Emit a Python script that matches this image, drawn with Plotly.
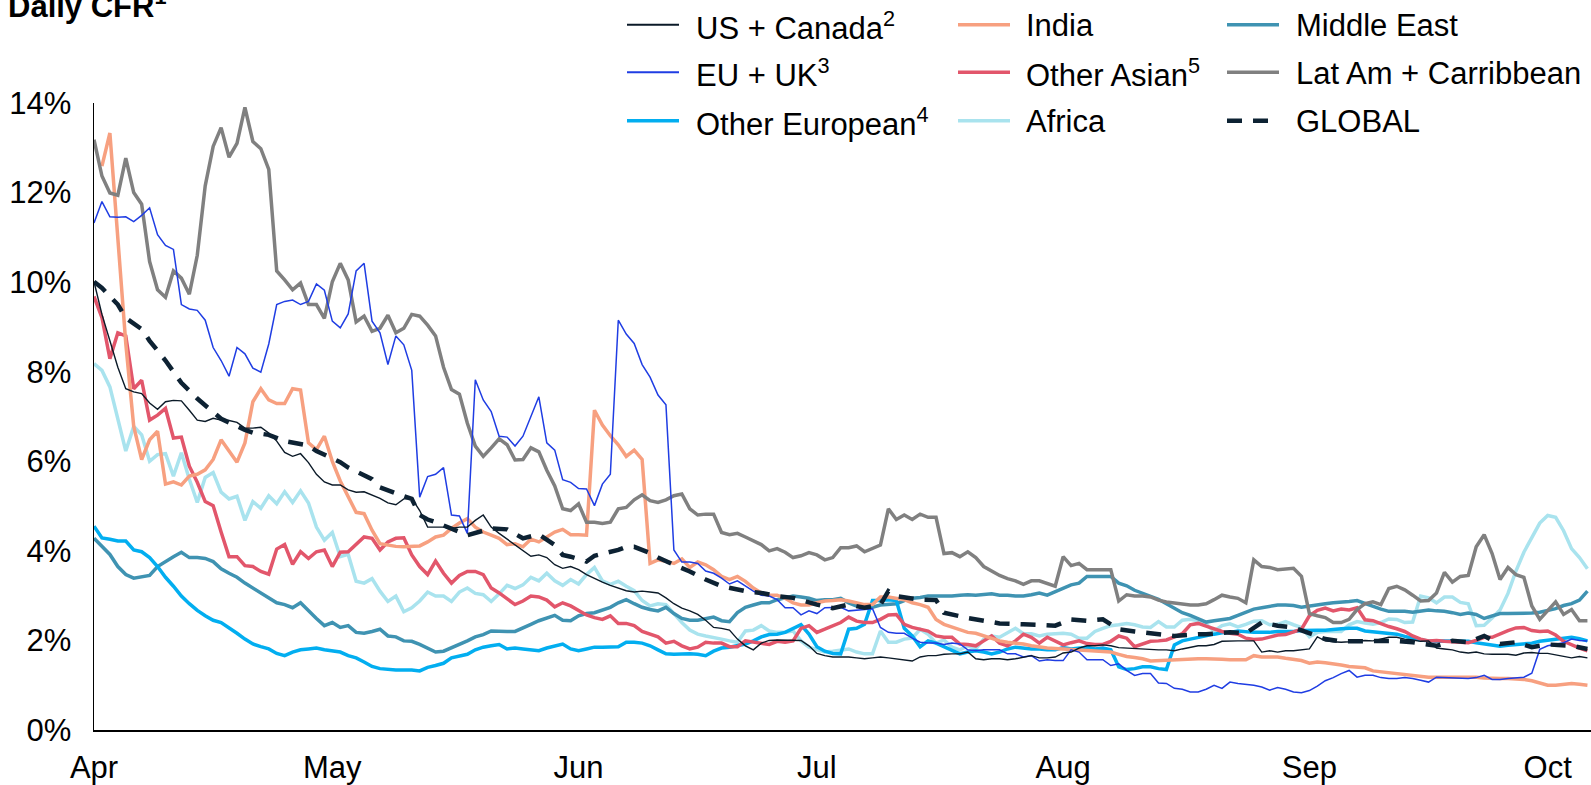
import pandas as pd
import plotly.graph_objects as go

# ---------------- data (daily CFR, %) ----------------
START = "2020-04-01"
DAYS = list(range(189))          # day offsets from 1 April

US_CANADA = [
    10.01, 9.28, 8.69, 8.1, 7.62, 7.55, 7.51, 7.3, 7.16, 7.33,
    7.36, 7.35, 7.14, 6.92, 6.89, 6.96, 6.92, 6.91, 6.87, 6.74,
    6.74, 6.76, 6.63, 6.45, 6.2, 6.11, 6.17, 5.97, 5.71, 5.54,
    5.47, 5.47, 5.36, 5.31, 5.32, 5.25, 5.17, 5.07, 5.03, 5.16,
    5.17, 4.9, 4.53, 4.53, 4.53, 4.5, 4.53, 4.53, 4.68, 4.8,
    4.53, 4.39, 4.26, 4.13, 4.02, 3.88, 3.91, 3.85, 3.69, 3.61,
    3.65, 3.58, 3.47, 3.38, 3.3, 3.23, 3.17, 3.11, 3.08, 3.1,
    3.08, 3.06, 2.95, 2.82, 2.72, 2.66, 2.58, 2.45, 2.29, 2.27,
    2.23, 2.03, 1.88, 1.79, 1.94, 2.0, 2.01, 2.01, 2.0, 2.0,
    1.88, 1.71, 1.66, 1.63, 1.63, 1.63, 1.61, 1.59, 1.61, 1.63,
    1.61, 1.59, 1.57, 1.54, 1.63, 1.66, 1.66, 1.69, 1.7, 1.7,
    1.74, 1.59, 1.57, 1.59, 1.59, 1.57, 1.59, 1.63, 1.66, 1.61,
    1.61, 1.63, 1.72, 1.74, 1.83, 1.88, 1.88, 1.9, 1.88, 1.84,
    1.83, 1.82, 1.81, 1.79, 1.79, 1.79, 1.77, 1.81, 1.85, 1.88,
    1.88, 1.91, 1.98, 1.99, 1.99, 1.99, 1.99, 1.74, 1.77, 1.74,
    1.77, 1.77, 1.79, 1.81, 2.08, 1.99, 1.97, 1.96, 1.97, 1.99,
    2.0, 1.99, 2.03, 2.07, 2.07, 2.03, 2.01, 1.98, 1.99, 1.83,
    1.81, 1.79, 1.74, 1.72, 1.74, 1.7, 1.69, 1.69, 1.69, 1.67,
    1.72, 1.73, 1.71, 1.71, 1.68, 1.64, 1.61, 1.64, 1.61]

EU_UK = [
    11.32, 11.8, 11.46, 11.45, 11.46, 11.35, 11.49, 11.66, 11.06, 10.82,
    10.73, 9.5, 9.4, 9.37, 9.15, 8.54, 8.25, 7.9, 8.54, 8.4,
    8.08, 7.99, 8.62, 9.5, 9.57, 9.6, 9.5, 9.57, 9.96, 9.82,
    9.13, 8.98, 9.29, 10.25, 10.42, 9.13, 8.87, 8.16, 8.8, 8.6,
    8.03, 5.2, 5.66, 5.71, 5.86, 4.8, 4.78, 4.39, 7.82, 7.37,
    7.11, 6.56, 6.54, 6.34, 6.56, 7.0, 7.44, 6.41, 6.25, 5.59,
    5.53, 5.39, 5.38, 5.01, 5.49, 5.71, 9.15, 8.84, 8.63, 8.16,
    7.88, 7.48, 7.26, 4.02, 3.75, 3.75, 3.72, 3.55, 3.5, 3.39,
    3.26, 3.33, 3.21, 3.1, 3.01, 2.99, 2.91, 2.73, 2.73, 2.57,
    2.66, 2.6, 2.73, 2.74, 2.74, 2.66, 2.67, 2.69, 2.71, 2.29,
    2.18, 2.16, 2.16, 2.05, 1.96, 1.94, 1.94, 1.91, 1.94, 1.92,
    1.79, 1.77, 1.79, 1.79, 1.79, 1.7, 1.7, 1.63, 1.66, 1.54,
    1.57, 1.55, 1.55, 1.79, 1.74, 1.57, 1.57, 1.57, 1.44, 1.48,
    1.33, 1.22, 1.26, 1.26, 1.05, 1.04, 0.93, 0.91, 0.85, 0.85,
    0.91, 1.0, 0.93, 1.07, 1.04, 1.02, 1.0, 0.96, 0.89, 0.95,
    0.91, 0.85, 0.83, 0.88, 0.98, 1.1, 1.17, 1.26, 1.33, 1.18,
    1.22, 1.22, 1.17, 1.15, 1.15, 1.17, 1.15, 1.11, 1.07, 1.18,
    1.17, 1.17, 1.15, 1.15, 1.17, 1.22, 1.13, 1.13, 1.15, 1.17,
    1.18, 1.27, 1.8, 1.88, 1.91, 1.95, 2.03, 2.0, 1.99]

OTHER_EUROPEAN = [
    4.55, 4.29, 4.26, 4.22, 4.22, 4.02, 3.98, 3.85, 3.65, 3.41,
    3.21, 2.99, 2.82, 2.67, 2.55, 2.45, 2.4, 2.29, 2.16, 2.03,
    1.92, 1.86, 1.81, 1.71, 1.66, 1.74, 1.79, 1.81, 1.83, 1.79,
    1.77, 1.74, 1.66, 1.61, 1.52, 1.42, 1.37, 1.35, 1.34, 1.34,
    1.34, 1.32, 1.4, 1.44, 1.49, 1.61, 1.66, 1.69, 1.79, 1.85,
    1.88, 1.91, 1.81, 1.83, 1.81, 1.79, 1.77, 1.83, 1.88, 1.92,
    1.81, 1.77, 1.81, 1.85, 1.85, 1.85, 1.86, 1.96, 1.96, 1.94,
    1.88, 1.79, 1.7, 1.69, 1.7, 1.7, 1.69, 1.66, 1.76, 1.83,
    1.85, 1.88, 1.92, 1.99, 2.08, 2.13, 2.14, 2.18, 2.27, 2.35,
    2.14, 1.86, 1.76, 1.71, 1.7, 2.25, 2.27, 2.36, 2.89, 2.89,
    2.91, 2.89, 2.27, 2.1, 1.86, 1.99, 1.94, 1.86, 1.79, 1.7,
    1.74, 1.77, 1.74, 1.7, 1.74, 1.81, 1.85, 1.83, 1.81, 1.81,
    1.79, 1.79, 1.84, 1.81, 1.83, 1.85, 1.81, 1.83, 1.79, 1.41,
    1.35, 1.37, 1.41, 1.41, 1.37, 1.35, 1.9, 1.99, 2.03, 2.07,
    2.1, 2.14, 2.17, 2.18, 2.21, 2.19, 2.18, 2.18, 2.18, 2.2,
    2.2, 2.2, 2.22, 2.23, 2.23, 2.23, 2.25, 2.26, 2.27, 2.27,
    2.21, 2.19, 2.18, 2.16, 2.14, 2.09, 2.04, 2.01, 1.99, 1.98,
    1.99, 1.99, 1.99, 1.98, 1.95, 1.92, 1.9, 1.87, 1.89, 1.91,
    1.92, 1.94, 1.98, 2.0, 2.02, 2.04, 2.07, 2.04, 1.99]

INDIA_DAYS = list(range(1, 189))
INDIA = [
    12.59, 13.33, 10.98, 8.63, 6.78, 6.04, 6.48, 6.67, 5.49,
    5.54, 5.47, 5.67, 5.71, 5.81, 6.04, 6.48, 6.23, 5.98, 6.41,
    7.33, 7.62, 7.37, 7.29, 7.29, 7.62, 7.59, 6.41, 6.26, 6.56,
    6.0, 5.56, 5.23, 4.86, 4.83, 4.46, 4.16, 4.12, 4.1, 4.09,
    4.1, 4.11, 4.2, 4.31, 4.35, 4.5, 4.62, 4.72, 4.53, 4.42,
    4.35, 4.28, 4.14, 4.16, 4.09, 4.26, 4.2, 4.31, 4.42, 4.48,
    4.36, 4.36, 4.35, 7.14, 6.81, 6.57, 6.37, 6.11, 6.25, 6.04,
    3.72, 3.8, 3.77, 3.72, 3.82, 3.63, 3.75, 3.69, 3.58, 3.43,
    3.36, 3.43, 3.32, 3.17, 3.06, 3.01, 3.01, 2.94, 2.84, 2.79,
    2.79, 2.84, 2.88, 2.89, 2.91, 2.88, 2.84, 2.8, 2.8, 2.97,
    2.97, 2.94, 2.91, 2.84, 2.8, 2.74, 2.47, 2.36, 2.3, 2.23,
    2.18, 2.16, 2.1, 2.03, 1.99, 1.96, 1.94, 1.92, 1.88, 1.85,
    1.83, 1.82, 1.81, 1.8, 1.79, 1.78, 1.77, 1.76, 1.74, 1.69,
    1.64, 1.62, 1.59, 1.54, 1.55, 1.56, 1.57, 1.58, 1.59, 1.59,
    1.59, 1.59, 1.58, 1.57, 1.57, 1.57, 1.66, 1.63, 1.63, 1.63,
    1.6, 1.57, 1.55, 1.49, 1.52, 1.5, 1.48, 1.45, 1.42, 1.4,
    1.39, 1.32, 1.3, 1.28, 1.26, 1.24, 1.22, 1.19, 1.18, 1.18,
    1.18, 1.17, 1.17, 1.18, 1.18, 1.16, 1.15, 1.15, 1.15, 1.14,
    1.13, 1.1, 1.05, 1.0, 1.0, 1.02, 1.04, 1.02, 1.0]

OTHER_ASIAN = [
    9.68, 9.21, 8.29, 8.87, 8.8, 7.62, 7.81, 6.92, 7.03, 7.18,
    6.52, 6.54, 5.89, 5.53, 5.1, 5.01, 4.42, 3.87, 3.87, 3.67,
    3.65, 3.54, 3.48, 4.04, 4.14, 3.7, 3.98, 3.83, 3.98, 4.02,
    3.65, 3.97, 3.98, 4.14, 4.31, 4.28, 4.02, 4.2, 4.28, 4.29,
    3.91, 3.65, 3.47, 3.77, 3.5, 3.28, 3.45, 3.54, 3.54, 3.47,
    3.17, 3.06, 2.94, 2.8, 2.88, 2.99, 2.97, 2.9, 2.75, 2.84,
    2.77, 2.66, 2.57, 2.51, 2.47, 2.55, 2.38, 2.38, 2.33, 2.2,
    2.14, 2.08, 1.94, 1.98, 1.88, 1.81, 1.85, 1.96, 1.94, 1.94,
    1.86, 1.86, 1.99, 1.96, 1.94, 1.91, 1.98, 1.96, 1.99, 2.27,
    2.33, 2.18, 2.25, 2.33, 2.4, 2.52, 2.43, 2.4, 2.4, 2.47,
    2.57, 2.58, 2.36, 2.29, 2.25, 2.21, 2.1, 2.07, 2.07, 1.92,
    1.91, 1.88, 1.99, 2.1, 1.94, 1.88, 1.99, 2.14, 2.07, 1.94,
    2.07, 1.99, 1.9, 1.95, 1.99, 1.93, 1.91, 1.91, 1.98, 2.1,
    2.05, 1.86, 1.92, 1.98, 1.99, 2.01, 2.08, 2.15, 2.35, 2.38,
    2.32, 2.25, 2.2, 2.16, 2.14, 2.05, 2.02, 2.03, 2.08, 2.12,
    2.13, 2.18, 2.25, 2.55, 2.67, 2.72, 2.66, 2.7, 2.68, 2.73,
    2.46, 2.44, 2.37, 2.31, 2.26, 2.2, 2.1, 2.03, 1.99, 2.0,
    1.98, 1.97, 1.96, 1.95, 2.0, 2.07, 2.07, 2.15, 2.22, 2.28,
    2.29, 2.22, 2.2, 2.21, 2.12, 1.98, 1.9, 1.83, 1.77]

AFRICA = [
    8.18, 8.03, 7.66, 6.92, 6.23, 6.78, 6.59, 6.0, 6.15, 6.17,
    5.67, 6.19, 5.6, 5.08, 5.64, 5.75, 5.31, 5.16, 5.22, 4.68,
    5.1, 4.95, 5.23, 5.05, 5.32, 5.08, 5.34, 5.07, 4.53, 4.24,
    4.41, 3.87, 3.92, 3.32, 3.28, 3.38, 3.1, 2.87, 2.99, 2.64,
    2.73, 2.88, 3.08, 2.99, 2.99, 2.87, 3.08, 3.17, 3.05, 3.02,
    2.87, 3.04, 3.23, 3.16, 3.24, 3.41, 3.33, 3.5, 3.33, 3.23,
    3.36, 3.26, 3.47, 3.63, 3.33, 3.25, 3.32, 3.21, 3.11, 2.89,
    2.77, 2.82, 2.8, 2.6, 2.4, 2.23, 2.14, 2.1, 2.07, 2.03,
    1.99, 1.96, 2.21, 2.23, 2.33, 2.21, 2.18, 2.18, 2.21, 1.99,
    1.85, 1.79, 1.74, 1.76, 1.79, 1.81, 1.74, 1.7, 1.7, 2.21,
    1.96, 1.96, 2.03, 2.05, 2.25, 2.14, 1.94, 2.01, 1.85, 1.79,
    1.88, 1.81, 2.03, 2.1, 2.07, 2.18, 2.27, 2.15, 2.15, 2.1,
    2.14, 2.15, 2.16, 2.14, 2.05, 2.05, 2.2, 2.27, 2.33, 2.35,
    2.38, 2.35, 2.3, 2.29, 2.42, 2.3, 2.3, 2.45, 2.47, 2.44,
    2.36, 2.21, 2.33, 2.37, 2.3, 2.36, 2.43, 2.44, 2.35, 2.36,
    2.42, 2.35, 2.29, 2.08, 2.18, 2.2, 2.2, 2.2, 2.35, 2.42,
    2.39, 2.36, 2.4, 2.48, 2.47, 2.4, 2.41, 2.99, 2.95, 2.84,
    2.97, 2.97, 2.85, 2.82, 2.33, 2.34, 2.5, 2.68, 3.05, 3.55,
    3.97, 4.28, 4.62, 4.79, 4.75, 4.45, 4.05, 3.85, 3.6]

MIDDLE_EAST = [
    4.28, 4.09, 3.92, 3.65, 3.47, 3.39, 3.43, 3.45, 3.65, 3.77,
    3.87, 3.97, 3.85, 3.85, 3.83, 3.76, 3.6, 3.5, 3.41, 3.28,
    3.17, 3.08, 2.97, 2.84, 2.8, 2.73, 2.84, 2.66, 2.49, 2.33,
    2.4, 2.29, 2.33, 2.18, 2.16, 2.2, 2.25, 2.1, 2.08, 1.99,
    1.98, 1.91, 1.83, 1.74, 1.76, 1.83, 1.92, 1.99, 2.08, 2.13,
    2.21, 2.2, 2.2, 2.2, 2.27, 2.36, 2.44, 2.49, 2.56, 2.45,
    2.44, 2.55, 2.6, 2.62, 2.69, 2.74, 2.84, 2.91, 2.82, 2.74,
    2.69, 2.66, 2.74, 2.6, 2.49, 2.45, 2.45, 2.49, 2.52, 2.44,
    2.42, 2.62, 2.74, 2.79, 2.84, 2.84, 2.91, 2.95, 2.99, 2.97,
    2.94, 2.89, 2.91, 2.91, 2.94, 2.84, 2.77, 2.74, 2.74, 2.79,
    2.8, 2.82, 2.89, 2.94, 2.96, 2.99, 2.99, 2.99, 2.99, 3.01,
    3.02, 3.01, 3.02, 3.04, 3.01, 3.01, 2.99, 2.99, 3.02, 3.06,
    3.01, 3.08, 3.15, 3.24, 3.28, 3.43, 3.43, 3.43, 3.43, 3.28,
    3.22, 3.12, 3.05, 3.0, 2.92, 2.82, 2.72, 2.62, 2.56, 2.48,
    2.41, 2.44, 2.46, 2.49, 2.56, 2.63, 2.7, 2.73, 2.76, 2.79,
    2.79, 2.78, 2.74, 2.77, 2.8, 2.82, 2.84, 2.85, 2.87, 2.89,
    2.82, 2.75, 2.7, 2.65, 2.65, 2.65, 2.63, 2.66, 2.68, 2.66,
    2.65, 2.62, 2.58, 2.61, 2.58, 2.49, 2.55, 2.6, 2.6, 2.6,
    2.6, 2.61, 2.63, 2.67, 2.71, 2.78, 2.82, 2.9, 3.1]

LAT_AM = [
    13.18, 12.37, 11.99, 11.94, 12.77, 12.0, 11.74, 10.46, 9.83, 9.66,
    10.25, 10.09, 9.73, 10.6, 12.15, 13.03, 13.45, 12.79, 13.1, 13.9,
    13.14, 12.98, 12.52, 10.25, 10.05, 9.83, 9.98, 9.5, 9.5, 9.19,
    10.01, 10.42, 10.05, 9.11, 9.24, 8.9, 8.97, 9.26, 8.87, 8.97,
    9.28, 9.24, 9.04, 8.8, 8.1, 7.6, 7.5, 6.85, 6.34, 6.11,
    6.3, 6.5, 6.37, 6.03, 6.04, 6.3, 6.21, 5.8, 5.45, 4.94,
    4.9, 5.05, 4.64, 4.64, 4.61, 4.64, 4.94, 4.97, 5.14, 5.25,
    5.12, 5.08, 5.14, 5.23, 5.27, 4.94, 4.8, 4.82, 4.82, 4.41,
    4.36, 4.39, 4.31, 4.22, 4.14, 4.0, 4.05, 3.97, 3.85, 3.89,
    3.96, 3.91, 3.8, 3.85, 4.07, 4.07, 4.11, 3.98, 4.05, 4.13,
    4.94, 4.7, 4.8, 4.7, 4.82, 4.75, 4.75, 3.94, 3.96, 3.87,
    3.98, 3.85, 3.65, 3.54, 3.45, 3.38, 3.33, 3.25, 3.33, 3.33,
    3.26, 3.21, 3.87, 3.67, 3.72, 3.58, 3.58, 3.58, 3.58, 2.88,
    3.02, 2.99, 2.99, 2.97, 2.9, 2.86, 2.84, 2.82, 2.79, 2.79,
    2.82, 2.91, 3.01, 2.97, 2.94, 2.84, 3.8, 3.65, 3.63, 3.58,
    3.6, 3.61, 3.43, 2.6, 2.55, 2.51, 2.4, 2.4, 2.47, 2.69,
    2.82, 2.86, 2.8, 3.16, 3.21, 3.13, 3.01, 2.88, 2.89, 3.06,
    3.52, 3.3, 3.43, 3.45, 4.09, 4.36, 3.94, 3.36, 3.63, 3.47,
    3.41, 2.77, 2.47, 2.67, 2.86, 2.58, 2.69, 2.44, 2.44]

GLOBAL_DAYS = [0, 1, 3, 4, 6, 7, 9, 10, 11, 13, 15, 16, 19, 20, 22, 24, 27, 28, 31, 32,
               35, 36, 39, 40, 41, 42, 43, 45, 47, 50, 52, 54, 56, 58, 59, 60, 62, 63, 66, 67,
               68, 70, 71, 73, 75, 77, 79, 82, 84, 86, 88, 91, 93, 95, 97, 99, 100, 101, 104, 106,
               107, 110, 112, 114, 117, 119, 121, 123, 125, 127, 129, 131, 134, 136, 139, 140, 143, 145, 147, 149,
               151, 153, 155, 157, 159, 162, 164, 166, 169, 171, 173, 175, 177, 179, 181, 183, 186, 188]
GLOBAL = [10.01, 9.87, 9.5, 9.2, 8.95, 8.69, 8.25, 7.99, 7.75, 7.4,
          7.11, 6.95, 6.7, 6.64, 6.59, 6.45, 6.35, 6.23, 5.98, 5.86,
          5.6, 5.42, 5.22, 5.16, 4.8, 4.7, 4.64, 4.5, 4.35, 4.5,
          4.48, 4.28, 4.37, 4.13, 3.91, 3.87, 3.76, 3.89, 4.02, 4.09,
          4.09, 3.95, 3.85, 3.69, 3.54, 3.36, 3.21, 3.1, 3.06, 2.99,
          2.95, 2.8, 2.72, 2.8, 2.73, 2.8, 3.1, 2.99, 2.91, 2.9,
          2.62, 2.5, 2.44, 2.38, 2.36, 2.35, 2.33, 2.47, 2.44, 2.47,
          2.25, 2.2, 2.13, 2.1, 2.14, 2.14, 2.18, 2.16, 2.4, 2.33,
          2.29, 2.16, 2.03, 1.98, 1.99, 1.99, 1.99, 1.96, 1.88, 1.99,
          1.96, 2.1, 1.92, 1.96, 1.85, 1.91, 1.88, 1.81]

Y_TICKS = [0, 2, 4, 6, 8, 10, 12, 14]
Y_TICK_TEXT = ["0%", "2%", "4%", "6%", "8%", "10%", "12%", "14%"]

# ---------------- helpers ----------------
start = pd.Timestamp(START)


def to_dates(days):
    return [start + pd.Timedelta(days=d) for d in days]


FONT = "Arial, Liberation Sans, Helvetica, sans-serif"
W, H = 1591, 785
ML, MR, MT, MB = 94, 0, 103, 48
PW, PH = W - ML - MR, H - MT - MB


def px_x(px):
    return (px - ML) / PW


def px_y(py):
    return (H - MB - py) / PH


# name, x days, y values, colour, width, dash, legend column, legend row
SERIES = [
    ("Africa", DAYS, AFRICA, "#a9e3ee", 3.5, "solid", 1, 2),
    ("Middle East", DAYS, MIDDLE_EAST, "#3f93b2", 3.5, "solid", 2, 0),
    ("Other European<sup>4</sup>", DAYS, OTHER_EUROPEAN, "#02aef0", 3.5, "solid", 0, 2),
    ("Other Asian<sup>5</sup>", DAYS, OTHER_ASIAN, "#e2566b", 3.5, "solid", 1, 1),
    ("India", INDIA_DAYS, INDIA, "#f7a080", 3.5, "solid", 1, 0),
    ("Lat Am + Carribbean", DAYS, LAT_AM, "#808080", 3.5, "solid", 2, 1),
    ("EU + UK<sup>3</sup>", DAYS, EU_UK, "#1f3de3", 1.5, "solid", 0, 1),
    ("US + Canada<sup>2</sup>", DAYS, US_CANADA, "#0b1a28", 1.4, "solid", 0, 0),
    ("GLOBAL", GLOBAL_DAYS, GLOBAL, "#0d2233", 4.5, "15px,11px", 2, 2),
]

fig = go.Figure()
shapes, annotations = [], []

COL_LINE_X = [627, 958, 1227]
COL_TEXT_X = [694, 1024, 1294]
ROW_Y = [24, 72, 121]

for name, xd, yv, color, width, dash, col, row in SERIES:
    assert len(xd) == len(yv), (name, len(xd), len(yv))
    fig.add_trace(go.Scatter(
        x=to_dates(xd), y=yv, mode="lines", name=name,
        line=dict(color=color, width=width, dash=dash),
        showlegend=False, hoverinfo="skip"))
    # custom legend entry
    shapes.append(dict(
        type="line", xref="paper", yref="paper",
        x0=px_x(COL_LINE_X[col]), x1=px_x(COL_LINE_X[col] + 52),
        y0=px_y(ROW_Y[row]), y1=px_y(ROW_Y[row]),
        line=dict(color=color, width=width if width > 2 else 2, dash=dash)))
    annotations.append(dict(
        xref="paper", yref="paper", x=px_x(COL_TEXT_X[col]), y=px_y(ROW_Y[row] + 1),
        xanchor="left", yanchor="middle", text=name, showarrow=False,
        font=dict(family=FONT, size=31, color="#000000")))

annotations.append(dict(
    xref="paper", yref="paper", x=px_x(6), y=px_y(25),
    xanchor="left", yanchor="bottom", text="<b>Daily CFR<sup>1</sup></b>",
    showarrow=False, font=dict(family=FONT, size=31, color="#000000")))

end = start + pd.Timedelta(days=188.45)

fig.update_layout(
    width=W, height=H,
    margin=dict(l=ML, r=MR, t=MT, b=MB, pad=0),
    paper_bgcolor="white", plot_bgcolor="white",
    showlegend=False,
    shapes=shapes, annotations=annotations,
    font=dict(family=FONT, size=31, color="#000000"),
    xaxis=dict(
        type="date", range=[start, end],
        tick0=START, dtick="M1", tickformat="%b",
        showgrid=False, zeroline=False,
        showline=True, linecolor="#000000", linewidth=2,
        ticks="", ticklabelstandoff=9,
        tickfont=dict(family=FONT, size=31, color="#000000")),
    yaxis=dict(
        range=[0, 14], tickvals=Y_TICKS, ticktext=Y_TICK_TEXT,
        showgrid=False, zeroline=False,
        showline=True, linecolor="#000000", linewidth=1.5,
        ticks="", ticklabelstandoff=15,
        tickfont=dict(family=FONT, size=31, color="#000000")),
)

fig.write_html(
    "out.html",
    config={"displayModeBar": False, "staticPlot": True},
    post_script="document.body.style.margin='0';document.body.style.padding='0';"
                "document.documentElement.style.overflow='hidden';")
